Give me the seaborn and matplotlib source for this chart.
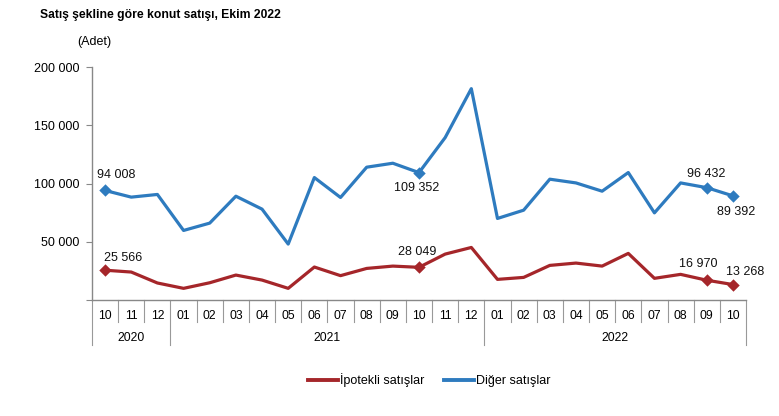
import pandas as pd
import numpy as np
import matplotlib.pyplot as plt
import matplotlib.transforms as mtransforms
import seaborn as sns

months = ["10", "11", "12",
          "01", "02", "03", "04", "05", "06", "07", "08", "09", "10", "11", "12",
          "01", "02", "03", "04", "05", "06", "07", "08", "09", "10"]
years = ["2020", "2021", "2022"]
year_counts = [3, 12, 10]

ipotekli = [25566, 24000, 14600, 10000, 14800, 21400, 17100, 10000, 28300, 20900,
            27100, 29100, 28049, 39400, 45100, 17700, 19400, 29700, 31700, 29100,
            40000, 18600, 22000, 16970, 13268]
diger = [94008, 88300, 90600, 59700, 66000, 89100, 78000, 48000, 105100, 88000,
         114000, 117400, 109352, 139400, 181400, 70000, 77100, 103700, 100500, 93400,
         109400, 74800, 100500, 96432, 89392]

series_names = ["İpotekli satışlar", "Diğer satışlar"]
colors = ["#A5262A", "#2E7BBF"]

# labelled points: (series, index, offset x px, offset y px)
labels = [(1, 0, 11, 15), (0, 0, 18, 12),
          (1, 12, -2, -15), (0, 12, -2, 15),
          (1, 23, -1, 14), (1, 24, 3, -16),
          (0, 23, -9, 16), (0, 24, 12, 13)]

n = len(months)
df = pd.DataFrame({
    "idx": list(range(n)) * 2,
    "value": ipotekli + diger,
    "series": [series_names[0]] * n + [series_names[1]] * n,
})

plt.rcParams["font.family"] = ["Liberation Sans", "DejaVu Sans"]

fig = plt.figure(figsize=(7.79, 4.16), dpi=100)
ax = fig.add_axes([92 / 779, 1 - 300 / 416, 654 / 779, 233 / 416])

sns.lineplot(data=df, x="idx", y="value", hue="series",
             palette=dict(zip(series_names, colors)), linewidth=2.3,
             legend=False, ax=ax)

data = [ipotekli, diger]
for s, i, dx, dy in labels:
    v = data[s][i]
    sns.scatterplot(x=[i], y=[v], color=colors[s], marker="D", s=40,
                    edgecolor=colors[s], linewidth=0, ax=ax, zorder=5)
    ax.annotate(f"{v:,}".replace(",", " "), (i, v), xytext=(dx, dy),
                textcoords="offset pixels", ha="center", va="center",
                fontsize=9, color="#111111")

ax.set_xlim(-0.5, n - 0.5)
ax.set_ylim(0, 200000)
ax.set_yticks([0, 50000, 100000, 150000, 200000])
ax.set_yticklabels(["", "50 000", "100 000", "150 000", "200 000"], fontsize=9)
ax.tick_params(axis="y", length=4, color="#888888", pad=5)
ax.set_xticks(range(n))
ax.set_xticklabels(months, fontsize=8.7)
ax.tick_params(axis="x", length=0, pad=7)
ax.set_xlabel("")
ax.set_ylabel("")
for sp in ["top", "right"]:
    ax.spines[sp].set_visible(False)
for sp in ["left", "bottom"]:
    ax.spines[sp].set_color("#888888")
    ax.spines[sp].set_linewidth(1)

# category separators below the axis
trans = mtransforms.blended_transform_factory(ax.transData, ax.transAxes)
year_edges = np.cumsum([0] + year_counts) - 0.5
for k in range(n + 1):
    x = k - 0.5
    bottom = -0.195 if x in year_edges else -0.095
    ax.plot([x, x], [0, bottom], transform=trans, color="#999999",
            linewidth=0.8, clip_on=False)
for y, a, b in zip(years, year_edges[:-1], year_edges[1:]):
    ax.text((a + b) / 2, -0.165, y, transform=trans, ha="center", va="center",
            fontsize=8.7)

fig.text(40 / 779, 1 - 15 / 416, "Satış şekline göre konut satışı, Ekim 2022",
         fontsize=8.7, fontweight="bold", va="center", ha="left")
fig.text(77 / 779, 1 - 42 / 416, "(Adet)", fontsize=9, va="center", ha="left")

handles = [plt.Line2D([], [], color=c, linewidth=2.8) for c in colors]
fig.legend(handles, series_names, loc="center", bbox_to_anchor=(429 / 779, 1 - 380 / 416),
           ncol=2, frameon=False, fontsize=9, handlelength=2.4,
           handletextpad=0.15, columnspacing=1.6)

plt.savefig("out.png", dpi=100)
